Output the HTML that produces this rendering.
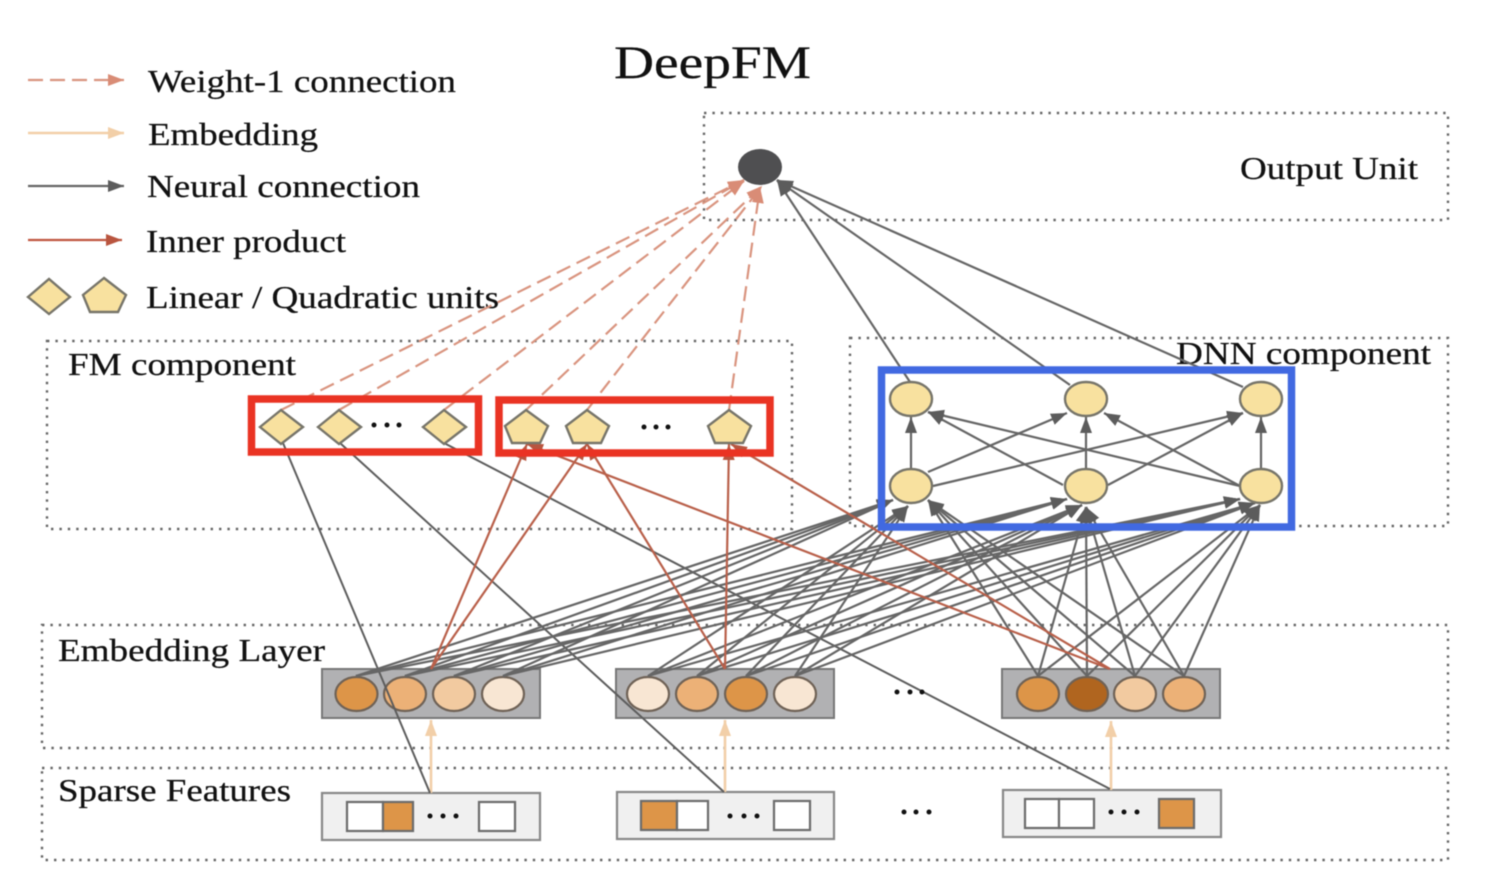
<!DOCTYPE html>
<html><head><meta charset="utf-8"><title>DeepFM</title>
<style>
html,body{margin:0;padding:0;background:#fff}
svg{display:block;filter:blur(.55px)}
text{font-family:"Liberation Serif",serif;fill:#111;stroke:#111;stroke-width:.25}
.d{fill:none;stroke:#666;stroke-width:2.4;stroke-dasharray:2.4 6}
.n line{stroke:#666;stroke-width:2.2;marker-end:url(#mg)}
.s line{stroke:#5d5d5d;stroke-width:2}
.r line{stroke:#b9604a;stroke-width:2.2;marker-end:url(#mr)}
.w line{stroke:#d9947f;stroke-width:2.2;stroke-dasharray:15 7;marker-end:url(#mw)}
.e line{stroke:#f2cfa8;stroke-width:2.6;marker-end:url(#me)}
.u{fill:#f8e19f;stroke:#77756a;stroke-width:2.4}
.c{stroke:#6f6256;stroke-width:2.2}
.dot{fill:#111}
</style></head><body>
<svg width="1500" height="886" viewBox="0 0 1500 886" xmlns="http://www.w3.org/2000/svg">
<defs>
<marker id="mg" markerUnits="userSpaceOnUse" markerWidth="18" markerHeight="14" refX="16" refY="6" orient="auto"><path d="M0 0L16 6L0 12z" fill="#5c5c5c"/></marker>
<marker id="mr" markerUnits="userSpaceOnUse" markerWidth="18" markerHeight="14" refX="16" refY="6" orient="auto"><path d="M0 0L16 6L0 12z" fill="#b9553f"/></marker>
<marker id="mw" markerUnits="userSpaceOnUse" markerWidth="18" markerHeight="14" refX="16" refY="6" orient="auto"><path d="M0 0L16 6L0 12z" fill="#d98c76"/></marker>
<marker id="me" markerUnits="userSpaceOnUse" markerWidth="18" markerHeight="14" refX="16" refY="6" orient="auto"><path d="M0 0L16 6L0 12z" fill="#f2cfa8"/></marker>
</defs>
<rect width="1500" height="886" fill="#fff"/>

<rect class="d" x="704" y="113" width="744" height="107"/>
<rect class="d" x="47" y="341" width="745" height="188"/>
<rect class="d" x="850" y="338" width="598" height="188"/>
<rect class="d" x="42" y="625" width="1406" height="123"/>
<rect class="d" x="42" y="768" width="1406" height="92"/>

<text x="614" y="78" font-size="47" textLength="197" lengthAdjust="spacingAndGlyphs">DeepFM</text>
<text x="148" y="92" font-size="32" textLength="308" lengthAdjust="spacingAndGlyphs">Weight-1 connection</text>
<text x="148" y="145" font-size="32" textLength="170" lengthAdjust="spacingAndGlyphs">Embedding</text>
<text x="147" y="197" font-size="32" textLength="273" lengthAdjust="spacingAndGlyphs">Neural connection</text>
<text x="146" y="252" font-size="32" textLength="200" lengthAdjust="spacingAndGlyphs">Inner product</text>
<text x="146" y="308" font-size="32" textLength="353" lengthAdjust="spacingAndGlyphs">Linear / Quadratic units</text>
<text x="1240" y="179" font-size="32" textLength="178" lengthAdjust="spacingAndGlyphs">Output Unit</text>
<text x="68" y="375" font-size="32" textLength="228" lengthAdjust="spacingAndGlyphs">FM component</text>
<text x="1176" y="364" font-size="32" textLength="255" lengthAdjust="spacingAndGlyphs">DNN component</text>
<text x="58" y="661" font-size="32" textLength="267" lengthAdjust="spacingAndGlyphs">Embedding Layer</text>
<text x="58" y="801" font-size="32" textLength="233" lengthAdjust="spacingAndGlyphs">Sparse Features</text>

<g class="w">
<line x1="28" y1="80" x2="124" y2="80"/>
</g>
<g class="e"><line x1="28" y1="133" x2="124" y2="133"/></g>
<g class="n"><line x1="28" y1="186" x2="124" y2="186"/></g>
<g class="r"><line x1="28" y1="240" x2="122" y2="240" style="stroke:#c0563f"/></g>
<polygon class="u" points="28,297 49,279 70,297 49,314"/>
<polygon class="u" points="104,278 126,295 118,312 90,312 83,295"/>

<!-- sparse boxes -->
<rect x="322" y="793" width="218" height="47" fill="#f0f0f0" stroke="#888" stroke-width="2.2"/>
<rect x="617" y="792" width="217" height="47" fill="#f0f0f0" stroke="#888" stroke-width="2.2"/>
<rect x="1003" y="790" width="218" height="47" fill="#f0f0f0" stroke="#888" stroke-width="2.2"/>
<g stroke="#6c6c6c" stroke-width="2.2">
<rect x="347" y="802" width="36" height="29" fill="#fff"/><rect x="383" y="802" width="30" height="29" fill="#dd9548"/><rect x="479" y="802" width="36" height="29" fill="#fff"/>
<rect x="641" y="801" width="36" height="29" fill="#dd9548"/><rect x="677" y="801" width="31" height="29" fill="#fff"/><rect x="774" y="801" width="36" height="29" fill="#fff"/>
<rect x="1025" y="799" width="34" height="29" fill="#fff"/><rect x="1059" y="799" width="35" height="29" fill="#fff"/><rect x="1159" y="799" width="35" height="29" fill="#dd9548"/>
</g>

<!-- embedding boxes -->
<rect x="322" y="669" width="218" height="49" fill="#b1b1b3" stroke="#777" stroke-width="2"/>
<rect x="616" y="669" width="218" height="49" fill="#b1b1b3" stroke="#777" stroke-width="2"/>
<rect x="1002" y="669" width="218" height="49" fill="#b1b1b3" stroke="#777" stroke-width="2"/>
<g class="c">
<ellipse cx="356.500" cy="694" rx="21" ry="17" fill="#dd9548"/><ellipse cx="405" cy="694" rx="21" ry="17" fill="#ecb177"/><ellipse cx="454" cy="694" rx="21" ry="17" fill="#f2caa0"/><ellipse cx="503" cy="694" rx="21" ry="17" fill="#f8e6d3"/>
<ellipse cx="648" cy="694" rx="21" ry="17" fill="#f8e6d3"/><ellipse cx="697" cy="694" rx="21" ry="17" fill="#ecb177"/><ellipse cx="746" cy="694" rx="21" ry="17" fill="#dd9548"/><ellipse cx="795" cy="694" rx="21" ry="17" fill="#f8e6d3"/>
<ellipse cx="1038" cy="694" rx="21" ry="17" fill="#dd9548"/><ellipse cx="1087" cy="694" rx="21" ry="17" fill="#b0651f"/><ellipse cx="1135" cy="694" rx="21" ry="17" fill="#f2caa0"/><ellipse cx="1184" cy="694" rx="21" ry="17" fill="#ecb177"/>
</g>

<g class="e">
<line x1="431" y1="793" x2="431" y2="720"/>
<line x1="725" y1="792" x2="725" y2="720"/>
<line x1="1111" y1="790" x2="1111" y2="721"/>
</g>
<g class="s">
<line x1="430" y1="793" x2="283" y2="443"/>
<line x1="724" y1="792" x2="340" y2="443"/>
<line x1="1110" y1="789" x2="444" y2="443"/>
</g>

<!-- embedding to DNN -->
<g class="n">
<line x1="356" y1="676" x2="893" y2="500"/><line x1="405" y1="676" x2="893" y2="500"/><line x1="454" y1="676" x2="893" y2="500"/><line x1="503" y1="676" x2="893" y2="500"/>
<line x1="648" y1="676" x2="908" y2="506"/><line x1="697" y1="676" x2="908" y2="506"/><line x1="746" y1="676" x2="908" y2="506"/><line x1="795" y1="676" x2="908" y2="506"/>
<line x1="1038" y1="676" x2="928" y2="500"/><line x1="1087" y1="676" x2="928" y2="500"/><line x1="1135" y1="676" x2="928" y2="500"/><line x1="1184" y1="676" x2="928" y2="500"/>
<line x1="356" y1="676" x2="1067" y2="499"/><line x1="405" y1="676" x2="1067" y2="499"/><line x1="454" y1="676" x2="1067" y2="499"/><line x1="503" y1="676" x2="1067" y2="499"/>
<line x1="648" y1="676" x2="1082" y2="505"/><line x1="697" y1="676" x2="1082" y2="505"/><line x1="746" y1="676" x2="1082" y2="505"/><line x1="795" y1="676" x2="1082" y2="505"/>
<line x1="1038" y1="676" x2="1086" y2="507"/><line x1="1087" y1="676" x2="1086" y2="507"/><line x1="1135" y1="676" x2="1086" y2="507"/><line x1="1184" y1="676" x2="1086" y2="507"/>
<line x1="356" y1="676" x2="1240" y2="499"/><line x1="405" y1="676" x2="1240" y2="499"/><line x1="454" y1="676" x2="1240" y2="499"/><line x1="503" y1="676" x2="1240" y2="499"/>
<line x1="648" y1="676" x2="1255" y2="503"/><line x1="697" y1="676" x2="1255" y2="503"/><line x1="746" y1="676" x2="1255" y2="503"/><line x1="795" y1="676" x2="1255" y2="503"/>
<line x1="1038" y1="676" x2="1260" y2="505"/><line x1="1087" y1="676" x2="1260" y2="505"/><line x1="1135" y1="676" x2="1260" y2="505"/><line x1="1184" y1="676" x2="1260" y2="505"/>
</g>

<!-- inner product -->
<g class="r">
<line x1="431" y1="669" x2="527" y2="444"/>
<line x1="431" y1="669" x2="587" y2="444"/>
<line x1="725" y1="669" x2="587" y2="444"/>
<line x1="725" y1="669" x2="729" y2="444"/>
<line x1="1110" y1="669" x2="527" y2="444"/>
<line x1="1110" y1="669" x2="731" y2="444"/>
</g>

<!-- weight-1 -->
<g class="w">
<line x1="281" y1="410" x2="744" y2="180"/>
<line x1="339" y1="410" x2="744" y2="180"/>
<line x1="444" y1="410" x2="744" y2="181"/>
<line x1="526" y1="410" x2="762" y2="186"/>
<line x1="587" y1="410" x2="762" y2="186"/>
<line x1="729" y1="410" x2="760" y2="187"/>
</g>

<!-- DNN to output -->
<g class="n">
<line x1="910" y1="382" x2="777" y2="180"/>
<line x1="1070" y1="385" x2="777" y2="180"/>
<line x1="1243" y1="387" x2="777" y2="180"/>
<line x1="911" y1="469" x2="911" y2="417"/>
<line x1="1086" y1="469" x2="1086" y2="417"/>
<line x1="1261" y1="469" x2="1261" y2="417"/>
<line x1="928" y1="472" x2="1067" y2="413"/>
<line x1="933" y1="486" x2="1243" y2="413"/>
<line x1="1063" y1="485" x2="928" y2="412"/>
<line x1="1240" y1="486" x2="928" y2="412"/>
<line x1="1108" y1="485" x2="1243" y2="413"/>
<line x1="1240" y1="486" x2="1104" y2="413"/>
</g>

<ellipse cx="760" cy="167" rx="22" ry="18" fill="#4f4f51"/>
<g class="u">
<ellipse cx="911" cy="399" rx="21" ry="17"/><ellipse cx="1086" cy="399" rx="21" ry="17"/><ellipse cx="1261" cy="399" rx="21" ry="17"/>
<ellipse cx="911" cy="486" rx="21" ry="17"/><ellipse cx="1086" cy="486" rx="21" ry="17"/><ellipse cx="1261" cy="486" rx="21" ry="17"/>
<polygon points="260,427 281,410 303,427 281,444"/>
<polygon points="318,427 339,410 361,427 339,444"/>
<polygon points="423,427 444,410 466,427 444,444"/>
<polygon points="526,410 548,426 540,443 512,443 505,426"/>
<polygon points="587,410 609,426 601,443 573,443 566,426"/>
<polygon points="729,410 751,426 743,443 715,443 708,426"/>
</g>

<g class="dot">
<circle cx="374" cy="425" r="2.5"/><circle cx="387" cy="425" r="2.5"/><circle cx="399" cy="425" r="2.5"/>
<circle cx="644" cy="427" r="2.5"/><circle cx="656" cy="427" r="2.5"/><circle cx="668" cy="427" r="2.5"/>
<circle cx="897" cy="692" r="2.5"/><circle cx="910" cy="692" r="2.5"/><circle cx="922" cy="692" r="2.5"/>
<circle cx="430" cy="816" r="2.5"/><circle cx="443" cy="816" r="2.5"/><circle cx="456" cy="816" r="2.5"/>
<circle cx="730" cy="816" r="2.5"/><circle cx="744" cy="816" r="2.5"/><circle cx="757" cy="816" r="2.5"/>
<circle cx="904" cy="812" r="2.5"/><circle cx="916" cy="812" r="2.5"/><circle cx="929" cy="812" r="2.5"/>
<circle cx="1111" cy="812" r="2.5"/><circle cx="1124" cy="812" r="2.5"/><circle cx="1137" cy="812" r="2.5"/>
</g>

<rect x="251.500" y="399" width="227" height="53" fill="none" stroke="#ea3323" stroke-width="7.500"/>
<rect x="499" y="400" width="271" height="53" fill="none" stroke="#ea3323" stroke-width="7.500"/>
<rect x="881.500" y="370" width="410" height="157" fill="none" stroke="#4169e1" stroke-width="7.500"/>
</svg>
</body></html>
